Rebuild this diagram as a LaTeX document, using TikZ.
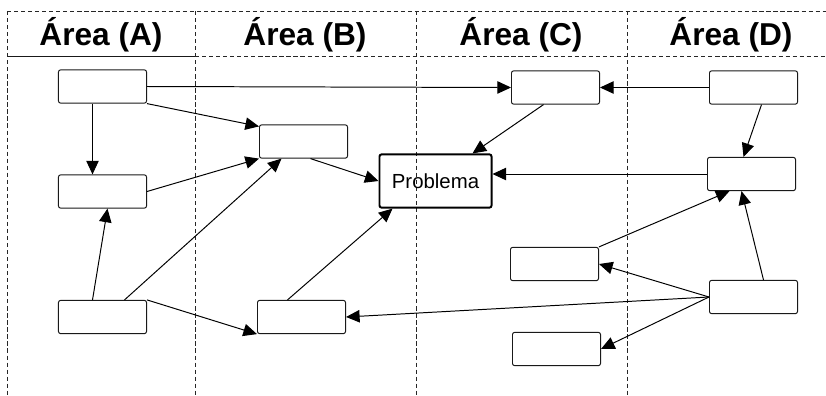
\documentclass[tikz,border=0pt]{standalone}
\usepackage{fontspec}
\setmainfont{Liberation Sans}
\usetikzlibrary{calc, arrows.meta}

\begin{document}
\begin{tikzpicture}[
x=0.025cm, y=-0.025cm,
% swimlanes
lane/.style={line width=0.65pt, color=black!85, dash pattern=on 3pt off 2pt},
area/.style={font=\bfseries\fontsize{22.5}{27}\selectfont, anchor=base},
% boxes
box/.style={draw, color=black!90, line width=0.7pt, rounded corners=1.5pt, minimum width=2.2cm, minimum height=0.83cm, inner sep=0},
probbox/.style={box, color=black, line width=1.4pt, minimum width=2.8cm, minimum height=1.33cm, font=\fontsize{14.5}{17}\selectfont},
% connectors
link/.style={-{Triangle[length=0.34cm, width=0.31cm]}, line width=0.7pt, color=black}
]

\useasboundingbox (0,0) rectangle (826,395);

% lanes and header
\draw[lane] (7,11) -- (826,11);
\draw[lane] (195,56) -- (826,56);
\draw[line width=0.7pt, black!90] (7,56) -- (195,56);
\foreach \x in {7,195,416,627} {
\draw[lane] (\x,11) -- (\x,395);
}

\node[area] (areaA) at (101,45) {Área (A)};
\node[area] (areaB) at (305,45) {Área (B)};
\node[area] (areaC) at (521,45) {Área (C)};
\node[area] (areaD) at (731,45) {Área (D)};

% area A
\node[box] (a1) at (102.5,86.5) {};
\node[box] (a2) at (102.5,191.5) {};
\node[box] (a3) at (102.5,317) {};
% area B
\node[box] (b1) at (303.5,141.5) {};
\node[box] (b2) at (301.5,317) {};
% area C
\node[probbox] (prob) at (435.5,181) {Problema};
\node[box] (c1) at (555.5,87.5) {};
\node[box] (c2) at (554.5,264) {};
\node[box] (c3) at (556.5,349) {};
% area D
\node[box] (d1) at (753.5,87.5) {};
\node[box] (d2) at (751.5,174) {};
\node[box] (d3) at (753.5,297) {};

% links
\draw[link] (a1.east) -- (c1.west);
\draw[link] (a1.south east) -- ($(b1.north west)+(0,2)$);
\draw[link] ($(a1.south)+(-10,0)$) -- ($(a2.north)+(-10,0)$);
\draw[link] (a2.east) -- (b1.south west);
\draw[link] ($(a3.north)+(-10,0)$) -- ($(a2.south)+(5,0)$);
\draw[link] ($(a3.north)+(22,0)$) -- ($(b1.south)+(-22,0)$);
\draw[link] (a3.north east) -- (b2.south west);
\draw[link] ($(b1.south)+(7,0)$) -- (prob.west);
\draw[link] ($(b2.north)+(-14,0)$) -- ($(prob.south west)+(14,0)$);
\draw[link] ($(c1.south)+(-12,0)$) -- ($(prob.north east)+(-20,0)$);
\draw[link] (d1.west) -- (c1.east);
\draw[link] ($(d1.south)+(8,0)$) -- ($(d2.north)+(-8,0)$);
\draw[link] (d2.west) -- (prob.east |- d2.west);
\draw[link] (c2.north east) -- ($(d2.south)+(-22,0)$);
\draw[link] ($(d3.north)+(10,0)$) -- ($(d2.south)+(-10,0)$);
\draw[link] (d3.west) -- (b2.east);
\draw[link] (d3.west) -- (c2.east);
\draw[link] (d3.west) -- (c3.east);

\end{tikzpicture}
\end{document}
